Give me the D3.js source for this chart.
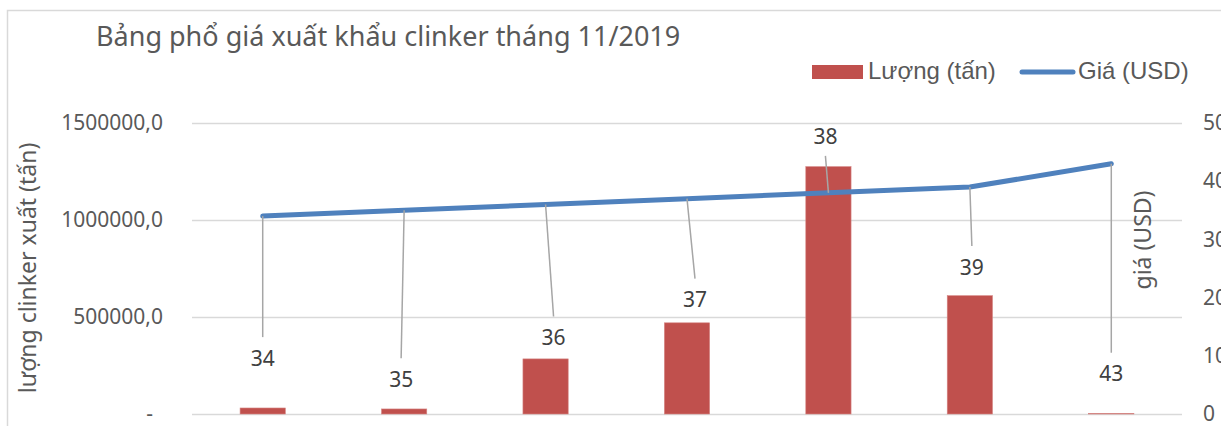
<!DOCTYPE html>
<html>
<head>
    <meta charset="utf-8" />
    <title>Bảng phổ giá xuất khẩu clinker tháng 11/2019</title>
    <style>
        body { margin: 0; background: #fff; }
        text { font-family: "Noto Sans", "Open Sans", sans-serif; }
    </style>
</head>
<body>
<script src="https://d3js.org/d3.v7.min.js"></script>
<script>
    // data (x labels are cut off in the source)
    var categories = ["1", "2", "3", "4", "5", "6", "7"];
    var volumes = [31000, 26000, 284000, 470000, 1275000, 610000, 3000];
    var prices = [34, 35, 36, 37, 38, 39, 43];
    var leftTicks = [0, 500000, 1000000, 1500000];
    var rightTicks = [0, 10, 20, 30, 40, 50];

    // hand placed data label offsets (pixels from the point)
    var labelDx = [0, -3, 8, 8, -3, 2, 0];
    var labelDy = [142, 169, 133, 101, -56, 80, 210];

    var width = 1221;
    var height = 426;
    var plot = {"left": 192, "right": 1182, "top": 123, "bottom": 414};

    var svg = d3.select("body").append("svg")
                .attr("width", width)
                .attr("height", height);

    // outer chart border (cropped at right and bottom)
    svg.append("path")
       .attr("d", "M7.5," + (height + 5) + "V10.5H" + (width + 5))
       .attr("fill", "none")
       .attr("stroke", "#d9d9d9")
       .attr("stroke-width", 1.5);

    var xScaler = d3.scaleBand()
                    .domain(categories)
                    .range([plot.left, plot.right])
                    .paddingInner(0.68)
                    .paddingOuter(0.34);

    var yLeft = d3.scaleLinear()
                  .domain([0, 1500000])
                  .range([plot.bottom, plot.top]);

    var yRight = d3.scaleLinear()
                   .domain([0, 50])
                   .range([plot.bottom, plot.top]);

    var cx = d => xScaler(d) + xScaler.bandwidth() / 2;

    // left axis with gridlines
    var leftAxis = d3.axisLeft(yLeft)
                     .tickValues(leftTicks)
                     .tickSize(-(plot.right - plot.left))
                     .tickPadding(29)
                     .tickFormat(d => d === 0 ? "-" : d.toFixed(1).replace(".", ","));

    var leftGroup = svg.append("g")
                       .attr("transform", "translate(" + plot.left + ",0)")
                       .call(leftAxis);
    leftGroup.select(".domain").remove();
    leftGroup.selectAll(".tick line")
             .attr("stroke", "#d9d9d9")
             .attr("stroke-width", 1.5);
    leftGroup.selectAll(".tick text")
             .attr("fill", "#595959")
             .style("font-size", "21px")
             .attr("dx", d => d === 0 ? -10 : 0);

    // right axis
    var rightGroup = svg.append("g")
                        .attr("transform", "translate(" + plot.right + ",0)")
                        .call(d3.axisRight(yRight).tickValues(rightTicks).tickSize(0).tickPadding(21));
    rightGroup.select(".domain").remove();
    rightGroup.selectAll(".tick text")
              .attr("fill", "#595959")
              .style("font-size", "21px");

    // bars
    svg.append("g")
       .selectAll("rect")
       .data(volumes)
       .enter().append("rect")
       .attr("x", (d, i) => xScaler(categories[i]))
       .attr("y", d => yLeft(d))
       .attr("width", xScaler.bandwidth())
       .attr("height", d => plot.bottom - yLeft(d))
       .attr("fill", "#c0504d")
       .attr("stroke", "#d58583")
       .attr("stroke-width", 0.6);

    // price line
    var lineGenerator = d3.line()
                          .x((d, i) => cx(categories[i]))
                          .y(d => yRight(d));

    svg.append("path")
       .attr("d", lineGenerator(prices))
       .attr("fill", "none")
       .attr("stroke", "#4f81bd")
       .attr("stroke-width", 5)
       .attr("stroke-linecap", "round")
       .attr("stroke-linejoin", "round");

    // leader lines and data labels
    var labelGroup = svg.append("g");
    prices.forEach(function(p, i) {
        var px = cx(categories[i]);
        var py = yRight(p);
        var lx = px + labelDx[i];
        var ly = py + labelDy[i];
        var endY = labelDy[i] > 0 ? ly - 21 : ly + 19;
        labelGroup.append("line")
                  .attr("x1", px).attr("y1", py)
                  .attr("x2", lx).attr("y2", endY)
                  .attr("stroke", "#a6a6a6")
                  .attr("stroke-width", 1.5);
        labelGroup.append("text")
                  .attr("x", lx)
                  .attr("y", ly)
                  .attr("dy", "0.36em")
                  .attr("text-anchor", "middle")
                  .attr("fill", "#404040")
                  .style("font-size", "21px")
                  .text(p);
    });

    // title
    svg.append("text")
       .attr("x", 96)
       .attr("y", 46)
       .attr("fill", "#595959")
       .style("font-size", "27px")
       .text("Bảng phổ giá xuất khẩu clinker tháng 11/2019");

    // axis titles
    svg.append("text")
       .attr("transform", "translate(36,268) rotate(-90)")
       .attr("text-anchor", "middle")
       .attr("fill", "#595959")
       .style("font-size", "23px")
       .text("lượng clinker xuất (tấn)");

    svg.append("text")
       .attr("transform", "translate(1151,240) rotate(-90)")
       .attr("text-anchor", "middle")
       .attr("fill", "#595959")
       .style("font-size", "23px")
       .text("giá (USD)");

    // legend
    var legend = svg.append("g");
    legend.append("rect")
          .attr("x", 812).attr("y", 65)
          .attr("width", 51).attr("height", 14)
          .attr("fill", "#c0504d");
    legend.append("text")
          .attr("x", 868).attr("y", 79)
          .attr("fill", "#595959")
          .style("font-family", "'Liberation Sans', Arial, sans-serif")
          .style("font-size", "24px")
          .text("Lượng (tấn)");
    legend.append("line")
          .attr("x1", 1022).attr("x2", 1073)
          .attr("y1", 72).attr("y2", 72)
          .attr("stroke", "#4f81bd")
          .attr("stroke-width", 5)
          .attr("stroke-linecap", "round");
    legend.append("text")
          .attr("x", 1078).attr("y", 79)
          .attr("fill", "#595959")
          .style("font-family", "'Liberation Sans', Arial, sans-serif")
          .style("font-size", "24px")
          .text("Giá (USD)");
</script>
</body>
</html>
